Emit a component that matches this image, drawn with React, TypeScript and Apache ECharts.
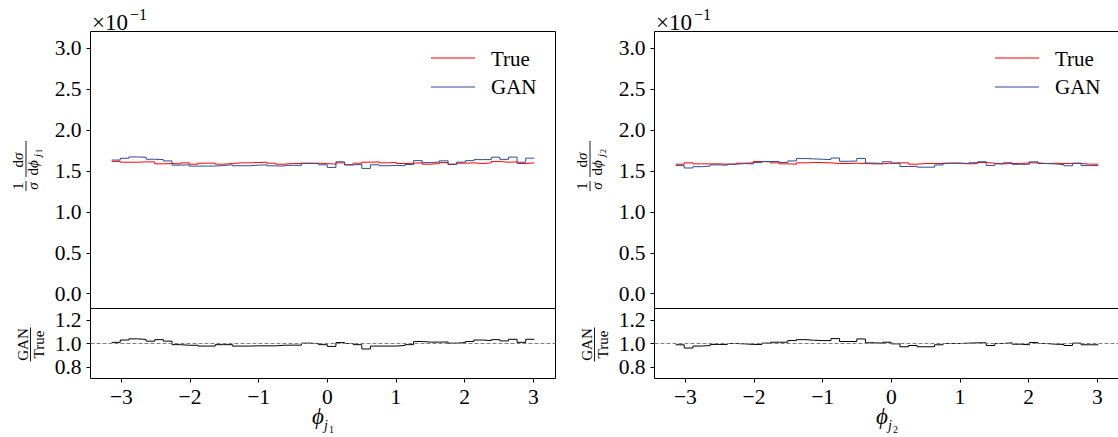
import React, { useEffect, useRef } from 'react';
import * as echarts from 'echarts';

const NBINS = 50;
const PHI_MIN = -Math.PI;
const PHI_MAX = Math.PI;
const xTicks = [-3, -2, -1, 0, 1, 2, 3];
const mainTicks = [0, 0.5, 1, 1.5, 2, 2.5, 3];
const ratioTicks = [0.8, 1.0, 1.2];

// ×10^-1 units
const trueJ1 = [1.615, 1.605, 1.605, 1.609, 1.609, 1.585, 1.589, 1.585, 1.597, 1.581,
  1.593, 1.593, 1.581, 1.589, 1.597, 1.597, 1.601, 1.605, 1.593, 1.581,
  1.589, 1.589, 1.589, 1.593, 1.589, 1.581, 1.597, 1.573, 1.593, 1.605,
  1.609, 1.597, 1.601, 1.589, 1.593, 1.597, 1.581, 1.589, 1.601, 1.577,
  1.593, 1.597, 1.589, 1.597, 1.613, 1.605, 1.609, 1.589, 1.597, 1.597];
const ratioJ1 = [1.01, 1.03, 1.04, 1.035, 1.02, 1.033, 1.02, 0.99, 0.985, 0.985,
  0.978, 0.978, 0.99, 0.99, 0.978, 0.978, 0.98, 0.98, 0.98, 0.985,
  0.986, 0.986, 1.003, 0.998, 0.99, 0.975, 1.008, 1.0, 0.99, 0.953,
  0.978, 0.978, 0.978, 0.983, 0.99, 1.017, 1.012, 1.012, 1.013, 1.003,
  1.008, 1.017, 1.03, 1.025, 1.033, 1.022, 1.036, 1.01, 1.036, 1.036];
const trueJ2 = [1.581, 1.597, 1.585, 1.585, 1.585, 1.581, 1.581, 1.593, 1.597, 1.613,
  1.609, 1.597, 1.585, 1.581, 1.597, 1.601, 1.601, 1.597, 1.589, 1.589,
  1.593, 1.589, 1.585, 1.585, 1.593, 1.597, 1.597, 1.581, 1.589, 1.589,
  1.589, 1.593, 1.593, 1.585, 1.589, 1.601, 1.593, 1.585, 1.589, 1.589,
  1.597, 1.597, 1.589, 1.593, 1.589, 1.589, 1.589, 1.581, 1.581, 1.581];
const ratioJ2 = [0.989, 0.961, 0.978, 0.983, 0.992, 0.992, 1.0, 0.997, 0.992, 0.992,
  1.003, 1.011, 1.011, 1.025, 1.033, 1.028, 1.025, 1.025, 1.042, 1.017,
  1.017, 1.039, 1.006, 1.003, 1.011, 0.997, 0.972, 0.983, 0.972, 0.972,
  0.989, 1.0, 1.0, 1.003, 1.006, 1.006, 0.983, 1.0, 1.006, 0.994,
  0.989, 1.008, 1.0, 0.994, 0.992, 0.983, 1.003, 0.989, 0.989, 0.994];

const FONT = "'Liberation Serif', 'DejaVu Serif', serif";
const RED = '#ff0000';
const BLUE = '#2f4b95';

const binEdge = (i: number) => PHI_MIN + (i * (PHI_MAX - PHI_MIN)) / NBINS;
const lastEdge = binEdge(NBINS - 1);
const span = lastEdge - PHI_MIN;
const X_MIN = PHI_MIN - 0.05 * span;
const X_MAX = lastEdge + 0.05 * span;

const PANEL_LEFT = [90.5, 654.5];
const PANEL_W = 465;
const MAIN_TOP = 31.5;
const MAIN_H = 277;
const RATIO_H = 70;

function fmtMinus(v: number) {
  return v < 0 ? '\u2212' + Math.abs(v) : String(v);
}

function txt(x: number, y: number, text: string, fontSize: number, extra: any = {}) {
  return {
    type: 'text', x, y, silent: true,
    style: { text, fontSize, fontFamily: FONT, fill: '#000', align: 'center', verticalAlign: 'middle', ...extra },
  };
}

function panelGraphics(p: number, sub: string) {
  const off = PANEL_LEFT[p] - PANEL_LEFT[0];
  const els: any[] = [];
  // x10^-1
  els.push(txt(92 + off, 22, '\u00d710', 23, { align: 'left' }));
  els.push(txt(130 + off, 14, '\u22121', 16, { align: 'left' }));
  // legend
  els.push({ type: 'line', silent: true, shape: { x1: 431 + off, y1: 58, x2: 475 + off, y2: 58 }, style: { stroke: RED, lineWidth: 1.2 } });
  els.push({ type: 'line', silent: true, shape: { x1: 431 + off, y1: 87, x2: 475 + off, y2: 87 }, style: { stroke: BLUE, lineWidth: 1.2 } });
  els.push(txt(491 + off, 59, 'True', 21, { align: 'left' }));
  els.push(txt(491 + off, 87, 'GAN', 21, { align: 'left' }));
  // x axis title
  els.push(txt(318 + off, 416, '\u03d5', 23, { fontStyle: 'italic' }));
  els.push(txt(324 + off, 425, 'j', 14, { fontStyle: 'italic', align: 'left' }));
  els.push(txt(329 + off, 429, sub, 10, { align: 'left' }));
  // y label main (rotated fraction)
  els.push({
    type: 'group', x: 26 + off, y: 167, rotation: Math.PI / 2, silent: true,
    children: [
      txt(-19, -8, '1', 15),
      { type: 'line', shape: { x1: -24, y1: 0, x2: -14, y2: 0 }, style: { stroke: '#000', lineWidth: 0.9 } },
      txt(-19, 7, '\u03c3', 15, { fontStyle: 'italic' }),
      txt(7, -8, 'd', 15, { align: 'right' }),
      txt(7, -8, '\u03c3', 15, { fontStyle: 'italic', align: 'left' }),
      { type: 'line', shape: { x1: -10, y1: 0, x2: 26, y2: 0 }, style: { stroke: '#000', lineWidth: 0.9 } },
      txt(-1, 7, 'd', 15, { align: 'right' }),
      txt(-1, 7, '\u03d5', 15, { fontStyle: 'italic', align: 'left' }),
      txt(10, 11, 'j', 11, { fontStyle: 'italic', align: 'left' }),
      txt(14, 13, sub, 8, { align: 'left' }),
    ],
  });
  // ratio label
  els.push({
    type: 'group', x: 30.5 + off, y: 344.5, rotation: Math.PI / 2, silent: true,
    children: [
      txt(0, -7.5, 'GAN', 15),
      { type: 'line', shape: { x1: -17, y1: 0, x2: 17, y2: 0 }, style: { stroke: '#000', lineWidth: 0.9 } },
      txt(0, 8.5, 'True', 15),
    ],
  });
  return els;
}

export default function App() {
  const ref = useRef<HTMLDivElement>(null);
  useEffect(() => {
    if (!ref.current) return;
    const chart = echarts.init(ref.current, undefined, { renderer: 'svg' });
    const panels = [
      { t: trueJ1, r: ratioJ1, sub: '1' },
      { t: trueJ2, r: ratioJ2, sub: '2' },
    ];
    const grids: any[] = [];
    const xAxes: any[] = [];
    const yAxes: any[] = [];
    const series: any[] = [];
    const labelStyle = { fontSize: 21.5, fontFamily: FONT, color: '#000' };
    panels.forEach((pd, p) => {
      const left = PANEL_LEFT[p];
      grids.push({ left, top: MAIN_TOP, width: PANEL_W, height: MAIN_H, show: true, borderColor: '#000', borderWidth: 1, backgroundColor: 'transparent', outerBoundsMode: 'none' });
      grids.push({ left, top: MAIN_TOP + MAIN_H, width: PANEL_W, height: RATIO_H, show: true, borderColor: '#000', borderWidth: 1, backgroundColor: 'transparent', outerBoundsMode: 'none' });
      [0, 1].forEach((k) => {
        const isRatio = k === 1;
        xAxes.push({
          type: 'value', gridIndex: 2 * p + k, min: X_MIN, max: X_MAX,
          axisLine: { show: false, onZero: false }, splitLine: { show: false },
          axisTick: { show: isRatio, customValues: xTicks, length: 4, lineStyle: { color: '#000' } },
          axisLabel: { show: isRatio, customValues: xTicks, formatter: fmtMinus, margin: 7, ...labelStyle },
        });
        yAxes.push({
          type: 'value', gridIndex: 2 * p + k,
          min: isRatio ? 0.7 : -0.18, max: isRatio ? 1.3 : 3.2,
          axisLine: { show: false, onZero: false }, splitLine: { show: false },
          axisTick: { show: true, customValues: isRatio ? ratioTicks : mainTicks, length: 4, lineStyle: { color: '#000' } },
          axisLabel: { show: true, customValues: isRatio ? ratioTicks : mainTicks, formatter: (v: number) => v.toFixed(1), margin: 9, ...labelStyle },
        });
      });
      const trueData = pd.t.map((v, i) => [binEdge(i), v]);
      const ganData = pd.t.map((v, i) => [binEdge(i), v * pd.r[i]]);
      const ratioData = pd.r.map((v, i) => [binEdge(i), v]);
      series.push({ type: 'line', name: 'True', xAxisIndex: 2 * p, yAxisIndex: 2 * p, data: trueData, step: 'end', symbol: 'none', lineStyle: { color: RED, width: 1 }, silent: true });
      series.push({ type: 'line', name: 'GAN', xAxisIndex: 2 * p, yAxisIndex: 2 * p, data: ganData, step: 'end', symbol: 'none', lineStyle: { color: BLUE, width: 1 }, silent: true });
      series.push({
        type: 'line', name: 'ratio', xAxisIndex: 2 * p + 1, yAxisIndex: 2 * p + 1, data: ratioData, step: 'end', symbol: 'none',
        lineStyle: { color: '#000', width: 1 }, silent: true,
        markLine: { silent: true, symbol: 'none', label: { show: false }, lineStyle: { type: [4, 2], color: '#808080', width: 1 }, data: [{ yAxis: 1 }] },
      });
    });
    chart.setOption({
      animation: false,
      backgroundColor: '#fff',
      grid: grids,
      xAxis: xAxes,
      yAxis: yAxes,
      series,
      graphic: [...panelGraphics(0, '1'), ...panelGraphics(1, '2')],
    });
    return () => chart.dispose();
  }, []);
  return <div ref={ref} style={{ position: 'fixed', left: 0, top: 0, width: 1118, height: 437, background: '#fff' }} />;
}
